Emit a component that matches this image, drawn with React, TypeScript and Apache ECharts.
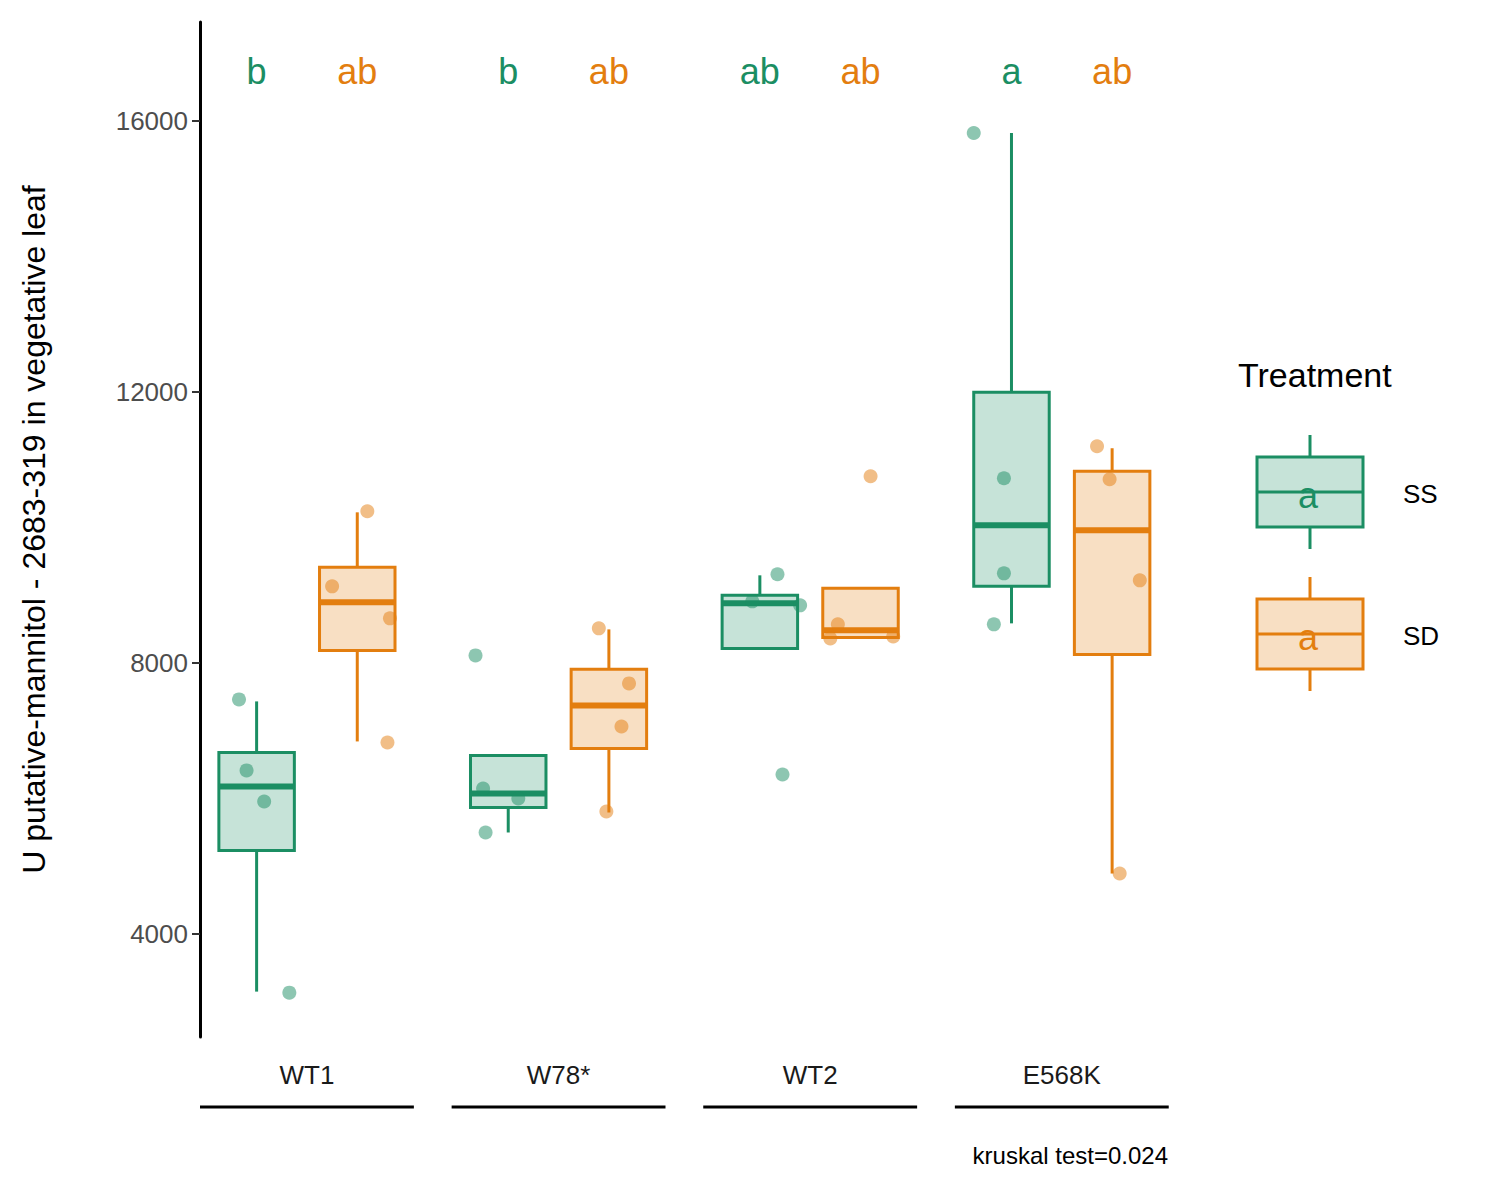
import React, { useEffect, useRef } from "react";
import * as echarts from "echarts";

const groups = ["WT1", "W78*", "WT2", "E568K"];
const treatments = ["SS", "SD"];
// [min, q1, median, q3, max] per group
const ssBoxes = [
  [3149, 5232, 6177, 6679, 7433],
  [5498, 5867, 6074, 6635, 6635],
  [8215, 8215, 8880, 8999, 9294],
  [8585, 9131, 10033, 11997, 15823],
];
const sdBoxes = [
  [6842, 8186, 8895, 9412, 10224],
  [5793, 6739, 7374, 7906, 8496],
  [8378, 8378, 8482, 9102, 9102],
  [4892, 8127, 9959, 10830, 11170],
];
// jittered points: [x offset from group centre, value]
const ssPoints = [
  [[-0.27, 7462], [-0.24, 6414], [-0.17, 5956], [-0.07, 3134]],
  [[-0.33, 8112], [-0.3, 6148], [-0.29, 5498], [-0.16, 6000]],
  [[-0.13, 9309], [-0.23, 8910], [-0.04, 8851], [-0.11, 6354]],
  [[-0.35, 15823], [-0.23, 10727], [-0.23, 9323], [-0.27, 8570]],
];
const sdPoints = [
  [[0.1, 9131], [0.24, 10239], [0.33, 8659], [0.32, 6827]],
  [[0.16, 8511], [0.28, 7699], [0.25, 7063], [0.19, 5808]],
  [[0.24, 10756], [0.11, 8570], [0.08, 8363], [0.33, 8392]],
  [[0.14, 11199], [0.19, 10712], [0.31, 9220], [0.23, 4892]],
];
const ssLetters = ["b", "b", "ab", "a"];
const sdLetters = ["ab", "ab", "ab", "ab"];
const yTicks = [4000, 8000, 12000, 16000];

const GREEN = "#1b8e63";
const ORANGE = "#e37e0f";
const FF = "Liberation Sans";

export default function App() {
  const ref = useRef<HTMLDivElement>(null);
  useEffect(() => {
    const chart = echarts.init(ref.current!, null, { renderer: "svg" });
    const boxData: any[] = [];
    ssBoxes.forEach((b, i) => boxData.push([i + 1 - 0.2, ...b, 0]));
    sdBoxes.forEach((b, i) => boxData.push([i + 1 + 0.2, ...b, 1]));
    const ptData = (pts: number[][][]) =>
      pts.flatMap((g, i) => g.map((p) => [i + 1 + p[0], p[1]]));
    const letterData: any[] = [];
    ssLetters.forEach((l, i) => letterData.push([i + 1 - 0.2, 16724, l, 0]));
    sdLetters.forEach((l, i) => letterData.push([i + 1 + 0.2, 16724, l, 1]));

    const renderBox = (params: any, api: any) => {
      const x = api.value(0);
      const col = api.value(6) === 0 ? GREEN : ORANGE;
      const hw = 0.15;
      const pl = api.coord([x - hw, 0])[0];
      const pr = api.coord([x + hw, 0])[0];
      const pc = api.coord([x, 0])[0];
      const y = (k: number) => api.coord([x, api.value(k)])[1];
      const [ymin, yq1, ymed, yq3, ymax] = [y(1), y(2), y(3), y(4), y(5)];
      return {
        type: "group",
        children: [
          { type: "line", shape: { x1: pc, y1: yq3, x2: pc, y2: ymax }, style: { stroke: col, lineWidth: 3 } },
          { type: "line", shape: { x1: pc, y1: yq1, x2: pc, y2: ymin }, style: { stroke: col, lineWidth: 3 } },
          { type: "rect", shape: { x: pl, y: yq3, width: pr - pl, height: yq1 - yq3 }, style: { fill: col, fillOpacity: 0.25, stroke: col, lineWidth: 3 } },
          { type: "line", shape: { x1: pl, y1: ymed, x2: pr, y2: ymed }, style: { stroke: col, lineWidth: 6 } },
        ],
      };
    };

    const renderGroupLabel = (params: any, api: any) => {
      const i = api.value(0);
      const left = api.coord([i - 0.425, 0])[0];
      const right = api.coord([i + 0.425, 0])[0];
      const c = api.coord([i, 0])[0];
      const bottom = params.coordSys.y + params.coordSys.height;
      return {
        type: "group",
        children: [
          { type: "text", x: c, y: bottom + 38, style: { text: groups[i - 1], fill: "#1a1a1a", fontSize: 26, fontFamily: FF, align: "center", verticalAlign: "middle" } },
          { type: "line", shape: { x1: left, y1: bottom + 70, x2: right, y2: bottom + 70 }, style: { stroke: "#000", lineWidth: 3 } },
        ],
      };
    };

    const legendBox = (y0: number, col: string, label: string) => ({
      type: "group",
      children: [
        { type: "line", shape: { x1: 1310, y1: y0 - 22, x2: 1310, y2: y0 + 92 }, style: { stroke: col, lineWidth: 3 } },
        { type: "rect", shape: { x: 1257, y: y0, width: 106, height: 70 }, style: { fill: "#fff" } },
        { type: "rect", shape: { x: 1257, y: y0, width: 106, height: 70 }, style: { fill: col, opacity: 0.25 } },
        { type: "rect", shape: { x: 1257, y: y0, width: 106, height: 70 }, style: { fill: "none", stroke: col, lineWidth: 3 } },
        { type: "line", shape: { x1: 1257, y1: y0 + 35, x2: 1363, y2: y0 + 35 }, style: { stroke: col, lineWidth: 3 } },
        { type: "text", x: 1308, y: y0 + 38, style: { text: "a", fill: col, fontSize: 36, fontFamily: FF, align: "center", verticalAlign: "middle" } },
        { type: "text", x: 1403, y: y0 + 37, style: { text: label, fill: "#000", fontSize: 26, fontFamily: FF, verticalAlign: "middle" } },
      ],
    });

    chart.setOption({
      animation: false,
      textStyle: { fontFamily: FF },
      grid: { left: 200, top: 22, right: 330, bottom: 163 },
      xAxis: {
        type: "value", min: 0.575, max: 4.43,
        axisLine: { show: false }, axisTick: { show: false }, axisLabel: { show: false }, splitLine: { show: false },
      },
      yAxis: {
        type: "value", min: 2479, max: 17462,
        name: "U putative-mannitol - 2683-319 in vegetative leaf",
        nameLocation: "middle", nameGap: 150, nameTextStyle: { fontSize: 32, color: "#000", fontFamily: FF },
        axisLine: { show: true, lineStyle: { color: "#000", width: 3 } },
        axisTick: { show: true, length: 8, lineStyle: { color: "#333", width: 2 }, customValues: yTicks },
        axisLabel: { fontSize: 26, color: "#4d4d4d", margin: 12, fontFamily: FF, customValues: yTicks, formatter: (v: number) => String(v) },
        splitLine: { show: false },
      },
      series: [
        { type: "custom", renderItem: renderBox, data: boxData, encode: { x: 0, y: [1, 5] }, z: 2 },
        { type: "scatter", data: ptData(ssPoints), symbolSize: 14, itemStyle: { color: GREEN, opacity: 0.5 }, z: 3 },
        { type: "scatter", data: ptData(sdPoints), symbolSize: 14, itemStyle: { color: ORANGE, opacity: 0.5 }, z: 3 },
        {
          type: "custom", data: letterData,
          renderItem: (p: any, api: any) => {
            const pt = api.coord([api.value(0), api.value(1)]);
            return { type: "text", x: pt[0], y: pt[1], style: { text: letterData[p.dataIndex][2], fill: api.value(3) === 0 ? GREEN : ORANGE, fontSize: 36, fontFamily: FF, align: "center", verticalAlign: "middle" } };
          },
        },
        { type: "custom", data: [[1], [2], [3], [4]], renderItem: renderGroupLabel, clip: false },
      ],
      graphic: [
        { type: "text", left: 1238, top: 358, style: { text: "Treatment", fill: "#000", fontSize: 34, fontFamily: FF } },
        legendBox(457, GREEN, treatments[0]),
        legendBox(599, ORANGE, treatments[1]),
        { type: "text", right: 332, top: 1143, style: { text: "kruskal test=0.024", fill: "#000", fontSize: 24, fontFamily: FF } },
      ],
    });
    return () => chart.dispose();
  }, []);
  return <div ref={ref} style={{ position: "absolute", left: 0, top: 0, width: 1500, height: 1200, background: "#fff" }} />;
}
